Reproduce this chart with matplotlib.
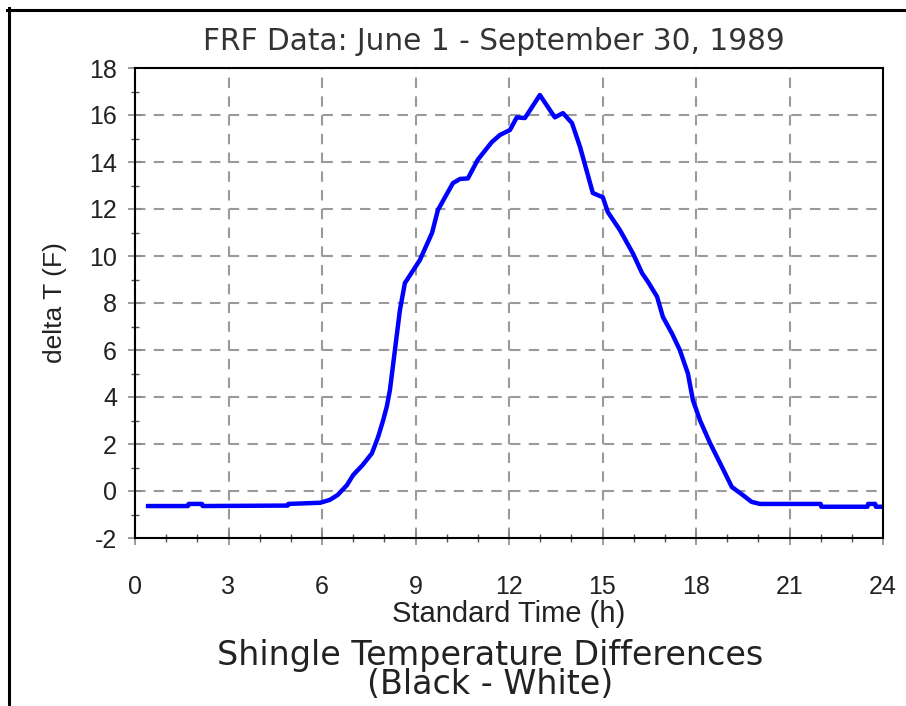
import matplotlib
matplotlib.use("Agg")
import matplotlib.pyplot as plt
from matplotlib.lines import Line2D
from matplotlib.ticker import MultipleLocator

plt.rcParams["axes.unicode_minus"] = False

# data
hours = [0.42, 1.0, 1.7, 1.72, 2.15, 2.17, 4.9, 4.92, 5.94, 6.25, 6.5, 6.8,
         7.0, 7.3, 7.6, 7.8, 7.96, 8.08, 8.18, 8.34, 8.5, 8.66, 8.98, 9.14,
         9.53, 9.72, 10.2, 10.43, 10.68, 11.0, 11.45, 11.71, 12.03, 12.25,
         12.51, 12.99, 13.47, 13.73, 14.02, 14.28, 14.69, 15.01, 15.17, 15.56,
         15.98, 16.27, 16.46, 16.75, 16.94, 17.23, 17.48, 17.74, 17.9, 18.13,
         18.45, 18.83, 19.15, 19.5, 19.78, 20.05, 22.0, 22.02, 23.5, 23.52,
         23.75, 23.77, 24.0]
delta_t = [-0.64, -0.64, -0.64, -0.55, -0.55, -0.64, -0.62, -0.55, -0.5, -0.38,
           -0.17, 0.25, 0.68, 1.1, 1.6, 2.3, 3.0, 3.6, 4.3, 6.0, 7.7, 8.85, 9.5,
           9.83, 10.98, 11.96, 13.1, 13.28, 13.3, 14.1, 14.85, 15.15, 15.36,
           15.9, 15.87, 16.85, 15.9, 16.08, 15.66, 14.64, 12.68, 12.5, 11.87,
           11.1, 10.1, 9.27, 8.9, 8.27, 7.4, 6.7, 6.0, 5.0, 3.87, 3.0, 2.04,
           1.03, 0.17, -0.17, -0.46, -0.55, -0.55, -0.67, -0.67, -0.55, -0.55,
           -0.67, -0.67]

x_ticks = list(range(0, 25, 3))
y_ticks = list(range(-2, 19, 2))

title = "FRF Data: June 1 - September 30, 1989"
caption = "Shingle Temperature Differences\n(Black - White)"

fig = plt.figure(figsize=(9.06, 7.06), dpi=100)
ax = fig.add_axes([135 / 906, 1 - 538 / 706, 748 / 906, 470 / 706])

ax.plot(hours, delta_t, color="#0000ff", lw=3.2, solid_joinstyle="round")

ax.set_xlim(0, 24)
ax.set_ylim(-2, 18)
ax.set_xticks(x_ticks)
ax.set_yticks(y_ticks)
ax.xaxis.set_minor_locator(MultipleLocator(1))
ax.yaxis.set_minor_locator(MultipleLocator(1))

# dashed grid
for gx in x_ticks[1:-1]:
    ax.axvline(gx, color="#9a9a9a", lw=1.5, dashes=(5, 4), zorder=0)
for gy in y_ticks[1:-1]:
    ax.axhline(gy, color="#9a9a9a", lw=1.5, dashes=(5, 4), zorder=0)

for s in ax.spines.values():
    s.set_linewidth(1.5)
    s.set_color("black")

ax.tick_params(which="major", direction="inout", length=10, width=1.2,
               color="#8a8a8a")
ax.tick_params(which="minor", direction="inout", length=6, width=1.0,
               color="#555555")
ax.tick_params(axis="x", which="major", pad=22)
ax.tick_params(axis="y", which="major", pad=8)
for lab in ax.get_xticklabels() + ax.get_yticklabels():
    lab.set_fontfamily("Liberation Sans")
    lab.set_fontsize(18)
    lab.set_color("#222222")

ax.set_xlabel("Standard Time (h)", family="Liberation Sans", fontsize=21,
              color="#222222", labelpad=0)
ax.set_ylabel("delta T (F)", family="Liberation Sans", fontsize=19,
              color="#222222", labelpad=16)

fig.text(494 / 906, 1 - 42 / 706, title, ha="center", va="center",
         family="DejaVu Sans", fontsize=21.3, color="#333333")
fig.text(490 / 906, 1 - 670 / 706, caption, ha="center", va="center",
         family="DejaVu Sans", fontsize=24, color="#222222", linespacing=0.85)

# frame lines on top and left of the picture
fig.add_artist(Line2D([7 / 906, 1.0], [1 - 9.5 / 706] * 2, color="black",
                      lw=2.2, transform=fig.transFigure))
fig.add_artist(Line2D([8.5 / 906] * 2, [0.0, 1 - 8 / 706], color="black",
                      lw=2.2, transform=fig.transFigure))

fig.savefig("out.png", dpi=100)
